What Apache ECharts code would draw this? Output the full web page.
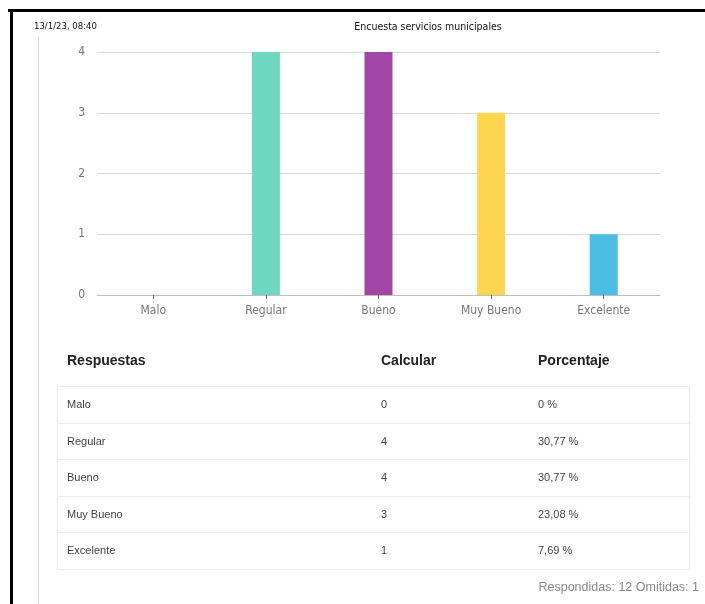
<!DOCTYPE html>
<html>
<head>
<meta charset="utf-8">
<script src="https://cdn.jsdelivr.net/npm/echarts@6/dist/echarts.min.js"></script>
<style>
  html, body { margin: 0; padding: 0; background: #fff; }
  #wrap { position: relative; width: 705px; height: 604px; overflow: hidden; background: #fff; }
  #chart { position: absolute; left: 0; top: 0; width: 705px; height: 604px; }
  .frameTop { position: absolute; left: 8px; top: 9px; width: 697px; height: 3px; background: #000; }
  .frameLeft { position: absolute; left: 10px; top: 9px; width: 3px; height: 595px; background: #000; }
  .vline { position: absolute; left: 38px; top: 38px; width: 1px; height: 566px; background: #d8d8d8; }
  .hdr { position: absolute; top: 352px; font-family: "Liberation Sans", Arial, sans-serif; font-weight: bold; font-size: 14px; color: #222; }
  #tbl { position: absolute; left: 57px; top: 386px; width: 631px; border: 1px solid #ececec; box-shadow: 0 0 2px rgba(0,0,0,0.06); }
  .row { position: relative; height: 35.6px; border-top: 1px solid #ececec; font-family: "Liberation Sans", Arial, sans-serif; font-size: 11px; color: #444; }
  .row:first-child { border-top: none; }
  .row span { position: absolute; top: 11px; }
  #foot { position: absolute; right: 6px; top: 580px; font-family: "Liberation Sans", Arial, sans-serif; font-size: 12.5px; color: #888; }
</style>
</head>
<body>
<div id="wrap">
  <div id="chart"></div>
  <div class="frameTop"></div>
  <div class="frameLeft"></div>
  <div class="vline"></div>
  <div id="headers"></div>
  <div id="tbl"></div>
  <div id="foot"></div>
</div>
<script>
// ---- data ----
var dateText = "13/1/23, 08:40";
var titleText = "Encuesta servicios municipales";
var categories = ["Malo", "Regular", "Bueno", "Muy Bueno", "Excelente"];
var counts = [0, 4, 4, 3, 1];
var percents = ["0 %", "30,77 %", "30,77 %", "23,08 %", "7,69 %"];
var barColors = ["#e74c3c", "#6dd8bf", "#a246a4", "#fed54f", "#4cbde2"];
var tableHeaders = ["Respuestas", "Calcular", "Porcentaje"];
var footerText = "Respondidas: 12  Omitidas: 1";

// ---- table (HTML) ----
var colX = [67, 381, 538];
var hdrEl = document.getElementById('headers');
tableHeaders.forEach(function (h, i) {
  var d = document.createElement('div');
  d.className = 'hdr';
  d.style.left = colX[i] + 'px';
  d.textContent = h;
  hdrEl.appendChild(d);
});
var tbl = document.getElementById('tbl');
categories.forEach(function (c, i) {
  var r = document.createElement('div');
  r.className = 'row';
  var cells = [c, String(counts[i]), percents[i]];
  cells.forEach(function (t, j) {
    var s = document.createElement('span');
    s.style.left = (colX[j] - 58) + 'px';
    s.textContent = t;
    r.appendChild(s);
  });
  tbl.appendChild(r);
});
document.getElementById('foot').textContent = footerText;

// ---- chart ----
var narrow = '"DejaVu Sans Condensed", "Liberation Sans Narrow", "Arial Narrow", sans-serif';
var chart = echarts.init(document.getElementById('chart'), null, { renderer: 'canvas' });
chart.setOption({
  animation: false,
  backgroundColor: 'transparent',
  title: [
    { text: dateText, left: 34, top: 22, padding: 0,
      textStyle: { fontFamily: narrow, fontSize: 9.5, fontWeight: 'normal', color: '#111' } },
    { text: titleText, left: 428, top: 22, padding: 0, textAlign: 'center',
      textStyle: { fontFamily: narrow, fontSize: 10.5, fontWeight: 'normal', color: '#111' } }
  ],
  grid: { left: 97, right: 45, top: 52, bottom: 309, containLabel: false },
  xAxis: {
    type: 'category',
    data: categories,
    axisLine: { show: true, lineStyle: { color: '#bdbdbd', width: 1 } },
    axisTick: { show: true, alignWithLabel: true, length: 4, lineStyle: { color: '#666' } },
    axisLabel: { fontFamily: narrow, fontSize: 12, color: '#777', margin: 10 }
  },
  yAxis: {
    type: 'value',
    min: 0, max: 4, interval: 1,
    axisLine: { show: false },
    axisTick: { show: false },
    axisLabel: { fontFamily: narrow, fontSize: 12, color: '#777', margin: 12 },
    splitLine: { show: true, lineStyle: { color: '#d9d9d9', width: 1 } }
  },
  series: [{
    type: 'bar',
    barWidth: 28,
    data: counts.map(function (v, i) {
      return { value: v, itemStyle: { color: barColors[i] } };
    })
  }]
});
</script>
</body>
</html>
